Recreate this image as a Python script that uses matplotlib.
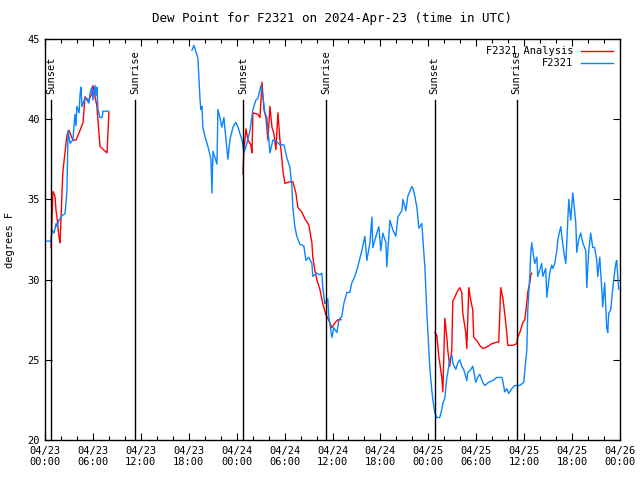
import numpy as np
import matplotlib
matplotlib.use("Agg")
import matplotlib.pyplot as plt
import matplotlib.dates as mdates

# Dew point for station F2321, hours since 2024-04-23 00:00 UTC

obs_hours = [
    [0.25, 0.75, 0.88, 1.13, 1.38, 1.5, 1.75, 2.13, 2.5, 2.63, 2.75, 2.88, 3.13, 3.5,
     3.75, 3.88, 4.0, 4.26, 4.38, 4.5, 4.63, 4.76, 5.0, 5.26, 5.5, 5.63, 5.88, 6.0,
     6.26, 6.38, 6.5, 6.63, 6.88, 7.13, 7.26, 8.0],
    [18.4, 18.65, 19.15, 19.4, 19.52, 19.65, 19.77, 20.03, 20.4, 20.78, 20.9, 21.03,
     21.28, 21.53, 21.65, 21.9, 22.15, 22.4, 22.78, 22.9, 23.15, 23.53, 23.9, 24.16,
     24.66, 24.91, 25.28, 25.66, 26.03, 26.41, 26.66, 27.03, 27.28, 27.53, 27.78,
     28.16, 28.54, 29.04, 29.41, 29.91, 30.29, 30.66, 30.91, 31.04, 31.29, 31.54,
     31.91, 32.42, 32.67, 33.04, 33.42, 33.54, 34.04, 34.42, 34.67, 34.79, 35.04,
     35.42, 35.54, 35.92, 36.17, 36.55, 36.8, 37.17, 37.42, 37.8, 38.17, 38.42, 38.8,
     39.17, 39.67, 40.05, 40.3, 40.68, 40.93, 41.05, 41.55, 41.8, 42.05, 42.3, 42.68,
     42.8, 43.18, 43.55, 43.93, 44.18, 44.68, 44.81, 45.18, 45.43, 45.93, 46.06,
     46.31, 46.56, 46.81, 47.18, 47.31, 47.43, 47.56, 47.68, 47.81, 48.06, 48.19,
     48.44, 48.56, 48.81, 49.06, 49.44, 49.69, 49.81, 50.06, 50.31, 50.44, 50.69,
     50.94, 51.06, 51.44, 51.69, 51.94, 52.19, 52.44, 52.82, 52.94, 53.32, 53.57,
     53.94, 54.19, 54.44, 54.82, 55.07, 55.57, 56.07, 56.57, 57.2, 57.32, 57.57,
     57.82, 58.07, 58.45, 58.82, 59.45, 59.95, 60.2, 60.33, 60.45, 60.7, 60.83, 60.95,
     61.08, 61.33, 61.58, 61.7, 61.95, 62.2, 62.33, 62.7, 62.83, 63.2, 63.45, 63.58,
     63.83, 64.08, 64.21, 64.58, 64.71, 64.96, 65.21, 65.33, 65.58, 65.83, 66.08,
     66.21, 66.46, 66.58, 66.83, 67.08, 67.33, 67.71, 67.83, 68.09, 68.34, 68.59,
     68.84, 69.09, 69.21, 69.46, 69.71, 69.84, 70.09, 70.34, 70.46, 70.59, 70.84,
     71.09, 71.21, 71.46, 71.59, 71.84],
]
obs_dewpt = [
    [32.4, 32.4, 33.1, 32.9, 33.5, 33.3, 33.7, 34.0, 34.1, 34.8, 35.6, 39.3, 38.5, 38.7,
     40.3, 39.6, 40.8, 40.4, 41.5, 42.0, 40.8, 41.0, 41.3, 41.3, 41.0, 41.6, 42.0, 41.2,
     42.1, 41.5, 42.0, 40.6, 40.1, 40.1, 40.5, 40.5],
    [44.3, 44.6, 43.8, 41.3, 40.6, 40.8, 39.5, 38.9, 38.3, 37.5, 35.4, 38.0,
     37.6, 37.2, 40.6, 40.1, 39.5, 40.1, 38.1, 37.5, 38.7, 39.5, 39.8, 39.5,
     38.7, 37.9, 38.5, 39.3, 40.6, 41.2, 41.3, 42.1, 41.4, 40.4, 40.1,
     37.9, 38.7, 38.6, 38.4, 38.4, 37.6, 37.0, 35.8, 34.5, 33.3, 32.7,
     32.2, 32.1, 31.2, 31.4, 31.0, 30.2, 30.4, 30.3, 30.4, 29.5, 28.5,
     28.8, 27.7, 26.4, 27.0, 26.7, 27.5, 27.7, 28.5, 29.2, 29.2, 29.8, 30.2,
     30.8, 31.8, 32.7, 31.2, 32.3, 33.9, 32.0, 32.9, 33.3, 31.8, 32.9, 32.3,
     30.8, 33.7, 33.1, 32.7, 33.9, 34.3, 35.0, 34.3, 35.2, 35.8, 35.7,
     35.2, 34.5, 33.2, 33.5, 32.5, 31.7, 30.8, 29.5, 27.9, 25.6, 24.5,
     23.1, 22.5, 21.7, 21.4, 21.4, 21.9, 22.3, 22.6, 23.9, 24.2, 25.0,
     25.3, 24.8, 24.4, 24.8, 25.0, 24.6, 24.4, 23.7, 24.2, 24.4, 24.6,
     23.6, 23.9, 24.1, 23.6, 23.4, 23.6, 23.7, 23.9, 23.9, 23.7, 23.0,
     23.2, 22.9, 23.2, 23.4, 23.4, 23.6, 25.0, 25.6, 28.1, 30.2, 31.7, 32.3,
     31.8, 31.0, 31.4, 30.2, 30.6, 31.0, 30.2, 30.7, 28.9, 30.4, 30.9, 30.7,
     31.0, 31.8, 32.5, 33.3, 32.7, 31.7, 31.0, 32.3, 35.0, 33.7, 35.4,
     34.8, 33.5, 31.7, 32.5, 32.9, 32.3, 31.8, 29.5, 31.8, 32.9, 32.0,
     32.0, 31.2, 30.2, 31.4, 29.4, 28.3, 29.8, 27.0, 26.7, 27.9, 28.1,
     29.4, 30.0, 31.0, 31.2, 29.4],
]

ana_hours = [
    [0.75, 0.88, 1.0, 1.25, 1.38, 1.5, 1.63, 1.75, 1.88, 2.0, 2.13, 2.25, 2.5, 2.75,
     3.0, 3.5, 3.88, 4.38, 4.76, 5.0, 5.38, 5.88, 6.0, 6.5, 6.88, 7.76, 7.88, 8.0],
    [24.78, 24.91, 25.16, 25.41, 25.78, 25.91, 26.03, 26.66, 26.91, 27.16, 27.41,
     27.66, 27.91, 28.16, 28.41, 28.66, 28.91, 29.16, 29.41, 29.66, 29.79, 30.04,
     30.66, 31.04, 31.41, 31.66, 32.17, 32.54, 33.04, 33.42, 33.54, 33.79, 34.04,
     34.42, 34.79, 35.17, 35.42, 35.92, 36.3, 36.67, 37.05],
    [48.81, 49.06, 49.31, 49.69, 49.81, 50.06, 50.31, 50.44, 50.69, 50.94, 51.06,
     51.31, 51.56, 51.94, 52.19, 52.32, 52.69, 52.82, 53.07, 53.32, 53.57, 53.69,
     54.07, 54.44, 54.82, 55.32, 55.94, 56.57, 56.82, 57.07, 57.32, 57.57, 57.82,
     57.95, 58.57, 59.07, 59.2, 59.45, 59.82, 60.08, 60.33, 60.45, 60.7, 60.83, 60.95],
]
ana_dewpt = [
    [32.0, 33.8, 35.5, 35.2, 34.3, 33.9, 33.2, 32.7, 32.3, 33.7, 35.6, 36.8, 37.9, 39.0,
     39.3, 38.7, 38.7, 39.3, 39.8, 41.4, 41.1, 41.6, 42.1, 40.8, 38.3, 37.9, 39.1, 40.4],
    [36.6, 38.1, 39.4, 38.7, 38.4, 37.9, 40.4, 40.3, 40.1, 42.3, 40.6,
     40.1, 38.7, 40.8, 39.5, 39.1, 38.1, 40.4, 38.7, 37.5, 36.8, 36.0,
     36.1, 36.1, 35.4, 34.5, 34.2, 33.8, 33.4, 32.3, 31.4, 30.6, 30.0,
     29.4, 28.5, 27.8, 27.6, 27.0, 27.3, 27.5, 27.5],
    [26.7, 26.5, 25.2, 23.9, 23.0, 27.6, 26.4, 25.6, 24.6, 25.6, 28.7,
     28.9, 29.2, 29.5, 29.2, 27.9, 26.7, 25.7, 29.5, 28.7, 28.1, 26.4,
     26.2, 25.9, 25.7, 25.8, 26.0, 26.1, 26.1, 29.5, 28.9, 27.9, 26.7,
     25.9, 25.9, 26.0, 26.4, 26.7, 27.3, 27.5, 28.6, 29.2, 29.8, 30.3, 30.4],
]

sun_events = ["Sunset", "Sunrise", "Sunset", "Sunrise", "Sunset", "Sunrise"]
sun_hours = [0.75, 11.26, 24.78, 35.17, 48.8, 59.07]

base = np.datetime64("2024-04-23T00:00")


def to_time(hours):
    return base + (np.array(hours) * 60).round().astype("timedelta64[m]")


plt.rcParams["font.family"] = "DejaVu Sans Mono"
plt.rcParams["font.size"] = 7.5

fig = plt.figure(figsize=(6.4, 4.8), dpi=100)
ax = fig.add_axes([45 / 640, 40 / 480, 575 / 640, 401 / 480])

red = "#ff0000"
blue = "#0a84ff"

for i, (h, v) in enumerate(zip(ana_hours, ana_dewpt)):
    ax.plot(to_time(h), v, color=red, lw=1, label="F2321 Analysis" if i == 0 else None)
for i, (h, v) in enumerate(zip(obs_hours, obs_dewpt)):
    ax.plot(to_time(h), v, color=blue, lw=1, label="F2321" if i == 0 else None)

for name, h in zip(sun_events, sun_hours):
    t = to_time([h])[0]
    ax.plot([t, t], [20, 41.2], color="black", lw=1)
    ax.text(t, 41.6, name, rotation=90, ha="center", va="bottom")

ax.set_xlim(to_time([0])[0], to_time([72])[0])
ax.set_ylim(20, 45)
ax.set_yticks([20, 25, 30, 35, 40, 45])
ax.xaxis.set_major_locator(mdates.HourLocator(byhour=[0, 6, 12, 18]))
ax.xaxis.set_minor_locator(mdates.HourLocator(byhour=range(0, 24, 2)))
ax.xaxis.set_major_formatter(mdates.DateFormatter("%m/%d\n%H:%M"))
ax.tick_params(which="both", direction="in", top=True, right=True, width=0.8)
ax.tick_params(which="major", length=5, pad=4)
ax.tick_params(which="minor", length=3)
for s in ax.spines.values():
    s.set_linewidth(1)

fig.text(10 / 640, 0.5, "degrees F", rotation=90, ha="center", va="center")
ax.set_title("Dew Point for F2321 on 2024-Apr-23 (time in UTC)", pad=12)

ax.legend(loc="upper right", frameon=False, markerfirst=False, handlelength=3,
          borderaxespad=0.3, labelspacing=0.2)

fig.savefig("out.png", dpi=100)
